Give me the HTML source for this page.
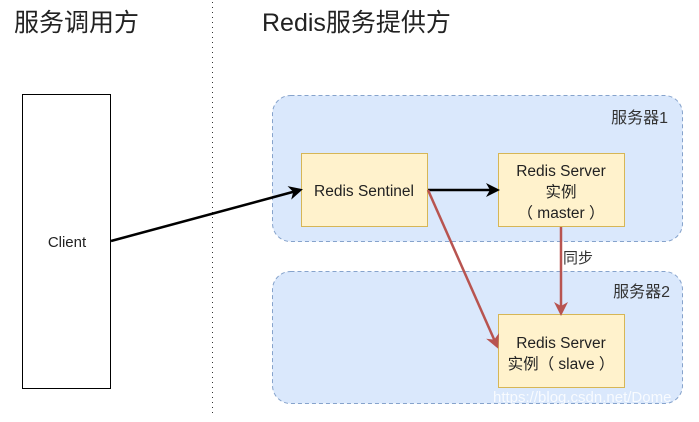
<!DOCTYPE html>
<html><head><meta charset="utf-8"><style>
body{margin:0;background:#fff;width:699px;height:417px;overflow:hidden}
text{font-family:"Liberation Sans","Noto Sans CJK SC",sans-serif}
</style></head><body>
<svg width="699" height="417" xmlns="http://www.w3.org/2000/svg">
<defs>
<marker id="ab" markerWidth="14" markerHeight="14" refX="11" refY="7" orient="auto" markerUnits="userSpaceOnUse"><path d="M0,0 L14,7 L0,14 L4,7 Z" fill="#000"/></marker>
<marker id="ar" markerWidth="14" markerHeight="14" refX="11" refY="7" orient="auto" markerUnits="userSpaceOnUse"><path d="M0,0 L14,7 L0,14 L4,7 Z" fill="#b85450"/></marker>
</defs>
<text x="14" y="31" font-size="25" fill="#222">服务调用方</text>
<text x="262" y="31" font-size="25" fill="#222">Redis服务提供方</text>
<line x1="212.5" y1="2" x2="212.5" y2="417" stroke="#333" stroke-dasharray="1,4"/>
<rect x="272.5" y="95.5" width="410" height="146" rx="18" fill="#dae8fc" stroke="#6c8ebf" stroke-dasharray="4,3" stroke-opacity="0.8"/>
<rect x="272.5" y="271.5" width="410" height="132" rx="18" fill="#dae8fc" stroke="#6c8ebf" stroke-dasharray="4,3" stroke-opacity="0.8"/>
<text x="668" y="123" font-size="16" fill="#333" text-anchor="end">服务器1</text>
<text x="670" y="297" font-size="16" fill="#333" text-anchor="end">服务器2</text>
<rect x="22.5" y="94.5" width="88" height="294" fill="#fff" stroke="#000"/>
<text x="67" y="247" font-size="15" fill="#222" text-anchor="middle">Client</text>
<rect x="301.5" y="153.5" width="126" height="73" fill="#fff2cc" stroke="#d6b656"/>
<text x="364" y="196" font-size="15.5" fill="#222" text-anchor="middle">Redis Sentinel</text>
<rect x="498.5" y="153.5" width="126" height="73" fill="#fff2cc" stroke="#d6b656"/>
<text x="561" y="176" font-size="15.5" fill="#222" text-anchor="middle">Redis Server</text>
<text x="561" y="197" font-size="15.5" fill="#222" text-anchor="middle">实例</text>
<text x="561" y="218" font-size="15.5" fill="#222" text-anchor="middle">（ master ）</text>
<rect x="498.5" y="314.5" width="126" height="73" fill="#fff2cc" stroke="#d6b656"/>
<text x="561" y="348" font-size="15.5" fill="#222" text-anchor="middle">Redis Server</text>
<text x="561" y="369" font-size="15.5" fill="#222" text-anchor="middle">实例（ slave ）</text>
<line x1="111" y1="241" x2="300" y2="190" stroke="#000" stroke-width="2.5" marker-end="url(#ab)"/>
<line x1="428" y1="190" x2="497" y2="190" stroke="#000" stroke-width="2.5" marker-end="url(#ab)"/>
<line x1="428" y1="190" x2="497" y2="346" stroke="#b85450" stroke-width="2.5" marker-end="url(#ar)"/>
<line x1="561" y1="227" x2="561" y2="313" stroke="#b85450" stroke-width="2.5" marker-end="url(#ar)"/>
<text x="563" y="263" font-size="15" fill="#333">同步</text>
<text x="493" y="402" font-size="15" fill="#fff" fill-opacity="0.8">https://blog.csdn.net/Dome_</text>
</svg>
</body></html>
